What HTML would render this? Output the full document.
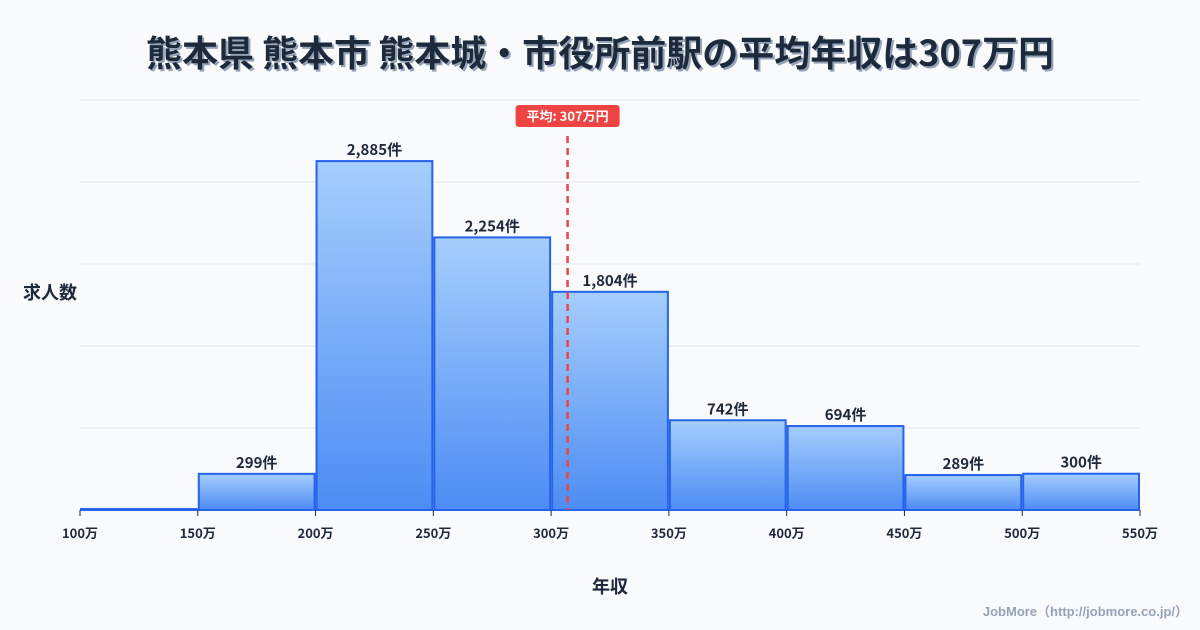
<!DOCTYPE html>
<html><head><meta charset="utf-8"><style>
body{margin:0;background:#f8fafc;}
svg{display:block;font-family:"Liberation Sans","Noto Sans CJK JP",sans-serif;}
</style></head><body>
<svg id="c" width="1200" height="630">
<defs><linearGradient id="g" x1="0" y1="0" x2="0" y2="1"><stop offset="0" stop-color="#a6cefc"/><stop offset="1" stop-color="#4d8cf4"/></linearGradient>
<filter id="sh"><feDropShadow dx="2" dy="2" stdDeviation="0" flood-color="#94a3b8"/></filter></defs>
<text x="600" y="66" text-anchor="middle" font-size="36" font-weight="bold" fill="#1e293b" filter="url(#sh)" font-family="'Noto Sans CJK JP',sans-serif">熊本県 熊本市 熊本城・市役所前駅の平均年収は307万円</text>
<g id="grid"></g><g id="bars"></g><g id="axis"></g>
<text x="50" y="299" text-anchor="middle" font-size="18" font-weight="bold" fill="#1e293b" font-family="'Noto Sans CJK JP',sans-serif">求人数</text>
<text x="610" y="593" text-anchor="middle" font-size="18" font-weight="bold" fill="#1e293b" font-family="'Noto Sans CJK JP',sans-serif">年収</text>
<text x="1188" y="616" text-anchor="end" font-size="13" font-weight="bold" fill="#94a3b8">JobMore（http://jobmore.co.jp/）</text>
</svg>
<script>
const edges=[100,150,200,250,300,350,400,450,500,550];
const counts=[8,299,2885,2254,1804,742,694,289,300];
const labels=["","299件","2,885件","2,254件","1,804件","742件","694件","289件","300件"];
const gridTicks=[0,1,2,3,4,5];
const meanValue=307;
const yMax=3390;
const ns="http://www.w3.org/2000/svg";
const X0=80,X1=1140,Y0=510,Y1=100;
const x=v=>X0+(v-100)/(550-100)*(X1-X0);
const y=v=>Y0-v/yMax*(Y0-Y1);
function mk(t,a,p){const e=document.createElementNS(ns,t);for(const k in a)e.setAttribute(k,a[k]);p.appendChild(e);return e;}
const grid=document.getElementById('grid'),bars=document.getElementById('bars'),axis=document.getElementById('axis');
gridTicks.forEach(i=>{const yy=Y0-i*(Y0-Y1)/5;const l=mk('line',{x1:X0,x2:X1,y1:yy,y2:yy,stroke:'#e2e8f0','stroke-width':1},grid);

});
counts.forEach((c,i)=>{const xa=x(edges[i])+1,xb=x(edges[i+1])-1;const r=mk('rect',{x:xa,y:y(c),width:xb-xa,height:Math.max(0,Y0-y(c)),fill:'url(#g)',stroke:'#2563eb','stroke-width':2},bars);


if(labels[i]){const t=mk('text',{x:(xa+xb)/2,y:y(c)-6,'text-anchor':'middle','font-size':15,'font-weight':'bold',fill:'#1e293b','font-family':"'Noto Sans CJK JP',sans-serif"},bars);t.textContent=labels[i];

}});
edges.forEach(e=>{mk('line',{x1:x(e),x2:x(e),y1:Y0,y2:Y0+6,stroke:'#1e293b','stroke-width':1},axis);
const t=mk('text',{x:x(e),y:Y0+28,'text-anchor':'middle','font-size':13,'font-weight':'bold',fill:'#1e293b','font-family':"'Noto Sans CJK JP',sans-serif"},axis);t.textContent=e+'万';

});
const mx=x(meanValue);
const ml=mk('line',{x1:mx,x2:mx,y1:136,y2:Y0,stroke:'#ef4444','stroke-width':2.5,'stroke-dasharray':'7,5'},axis);


const mb=mk('rect',{x:mx-52,y:105,width:104,height:22,rx:3,fill:'#ef4444'},axis);


const mt=mk('text',{x:mx,y:121,'text-anchor':'middle','font-size':13,'font-weight':'bold',fill:'#fff','font-family':"'Noto Sans CJK JP',sans-serif"},axis);mt.textContent='平均: '+meanValue+'万円';


</script>
</body></html>
